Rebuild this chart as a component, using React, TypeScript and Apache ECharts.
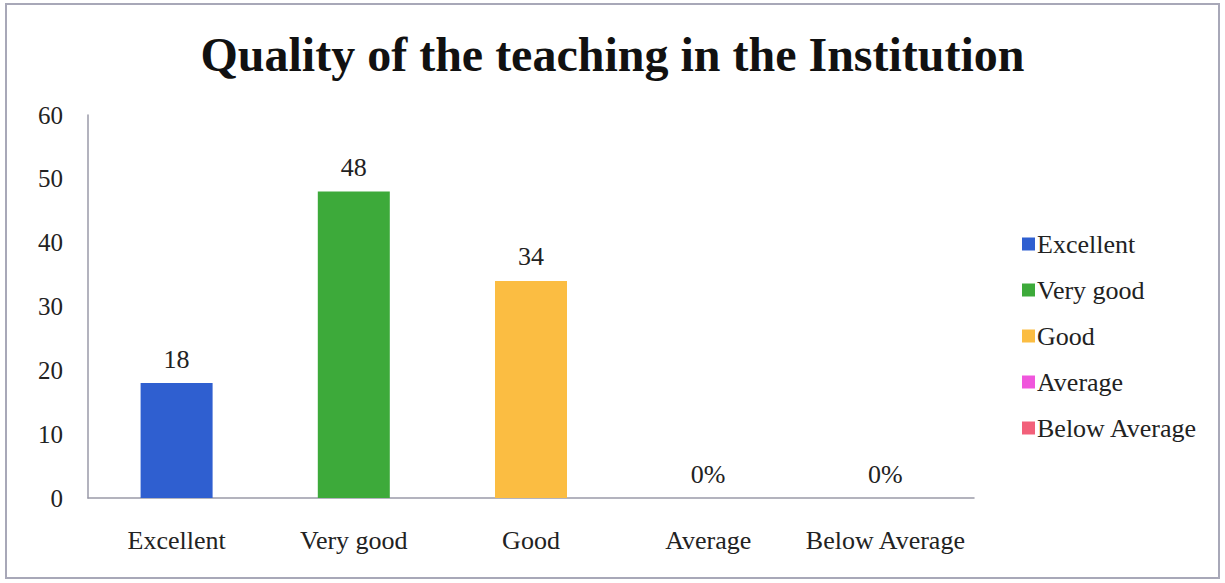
import React, { useEffect, useRef } from "react";
import * as echarts from "echarts";

const categories = ["Excellent", "Very good", "Good", "Average", "Below Average"];
const values = [18, 48, 34, 0, 0];
const colors = ["#2f5fd0", "#3daa3a", "#fbbd42", "#f056dc", "#f2607a"];
const yTicks = { min: 0, max: 60, interval: 10 };

export default function App() {
  const ref = useRef<HTMLDivElement>(null);
  useEffect(() => {
    document.body.style.margin = "0";
    const chart = echarts.init(ref.current!, null, { renderer: "svg" });
    const font = "'Liberation Serif', 'Times New Roman', serif";
    const series = categories.map((name, i) => ({
      name,
      type: "bar",
      barWidth: 72,
      barGap: "-100%",
      itemStyle: { color: colors[i] },
      data: categories.map((_, j) => (j === i ? values[i] : "-")),
      label: {
        show: true,
        position: "top",
        distance: 11,
        fontFamily: font,
        fontSize: 26,
        color: "#222",
        formatter: (p: any) => (p.value === 0 ? "0%" : String(p.value)),
      },
    }));
    chart.setOption({
      animation: false,
      backgroundColor: "#fff",
      title: {
        text: "Quality of the teaching in the Institution",
        left: "center",
        top: 25,
        textStyle: { fontFamily: font, fontSize: 48, fontWeight: "bold", color: "#111" },
      },
      legend: {
        orient: "vertical",
        left: 1017,
        top: 226,
        itemGap: 20,
        itemWidth: 13,
        itemHeight: 13,
        icon: "rect",
        textStyle: { fontFamily: font, fontSize: 26, color: "#222", padding: [0, 0, 0, -3] },
        data: categories,
      },
      grid: { left: 88, right: 251, top: 115, bottom: 85 },
      xAxis: {
        type: "category",
        data: categories,
        axisLine: { lineStyle: { color: "#9a9aa8", width: 1.5 } },
        axisTick: { show: false },
        axisLabel: { interval: 0, fontFamily: font, fontSize: 26, color: "#222", margin: 29 },
      },
      yAxis: {
        type: "value",
        min: yTicks.min,
        max: yTicks.max,
        interval: yTicks.interval,
        splitLine: { show: false },
        axisLine: { show: true, lineStyle: { color: "#9a9aa8", width: 1.5 } },
        axisTick: { show: false },
        axisLabel: { fontFamily: font, fontSize: 25, color: "#222", margin: 25 },
      },
      graphic: [
        {
          type: "rect",
          shape: { x: 6, y: 4, width: 1213, height: 574 },
          style: { fill: "none", stroke: "#a8a8b8", lineWidth: 2 },
          silent: true,
        },
      ],
      series,
    });
    return () => chart.dispose();
  }, []);
  return <div ref={ref} style={{ width: 1225, height: 583 }} />;
}
